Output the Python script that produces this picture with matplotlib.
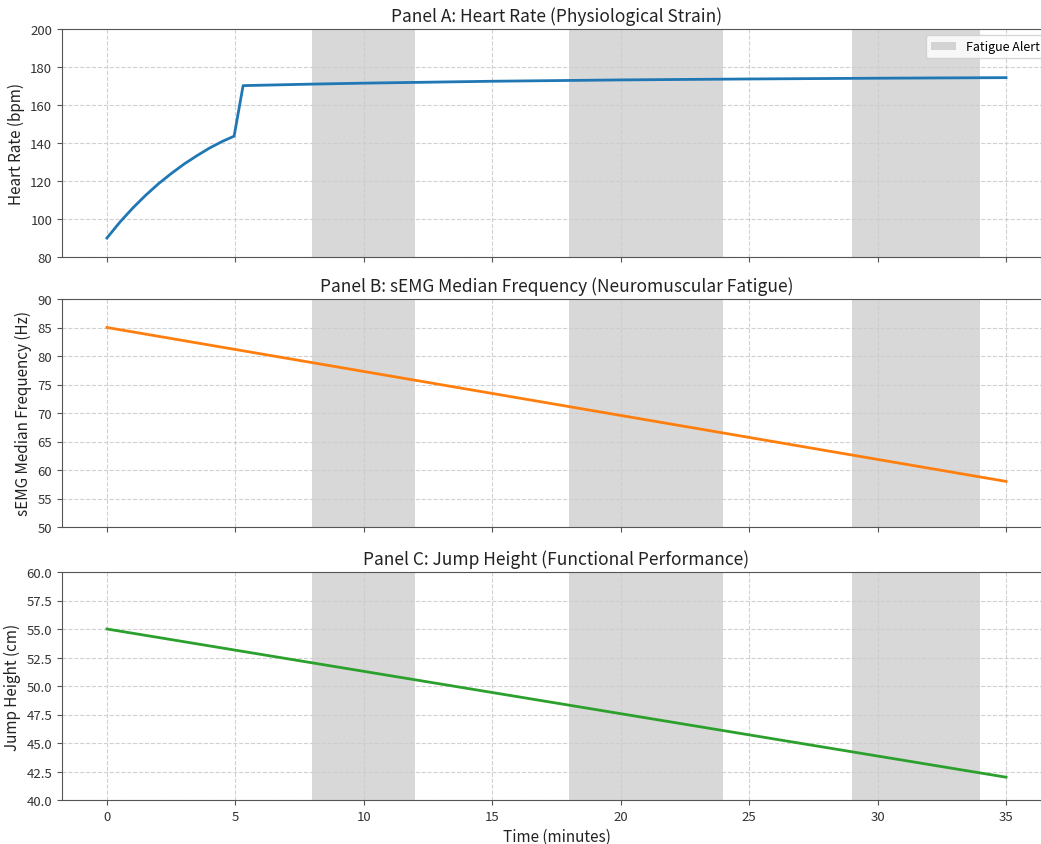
import matplotlib
matplotlib.use('Agg')
import matplotlib.pyplot as plt

plt.rcParams['font.family'] = ['Noto Sans CJK SC', 'DejaVu Sans']
plt.rcParams['axes.edgecolor'] = '#555555'
plt.rcParams['xtick.color'] = '#555555'
plt.rcParams['ytick.color'] = '#555555'
plt.rcParams['xtick.labelcolor'] = '#333333'
plt.rcParams['ytick.labelcolor'] = '#333333'

# Heart rate (minutes, bpm).
hr_time = [0, 0.5, 1.0, 1.5, 2.0, 2.5, 3.0, 3.5, 4.0, 4.5, 4.95,
           5.3, 8, 10, 15, 20, 25, 30, 35]
hr_values = [90, 98.3, 105.7, 112.4, 118.5, 123.9, 128.9, 133.3, 137.4, 140.9, 143.6,
             170.2, 171.0, 171.5, 172.5, 173.2, 173.7, 174.1, 174.4]

# sEMG median frequency (Hz) and jump height (cm).
semg_time = [0, 35]
semg_values = [85.0, 58.0]
jump_time = [0, 35]
jump_values = [55.0, 42.0]

# Fatigue alert windows (start, end) in minutes.
alert_windows = [(8, 12), (18, 24), (29, 34)]

panels = [
    ('Panel A: Heart Rate (Physiological Strain)', 'Heart Rate (bpm)',
     hr_time, hr_values, 'tab:blue', (80, 200)),
    ('Panel B: sEMG Median Frequency (Neuromuscular Fatigue)', 'sEMG Median Frequency (Hz)',
     semg_time, semg_values, 'tab:orange', (50, 90)),
    ('Panel C: Jump Height (Functional Performance)', 'Jump Height (cm)',
     jump_time, jump_values, 'tab:green', (40, 60)),
]

fig = plt.figure(figsize=(10.41, 8.45), dpi=100)
W, H = 1041, 845
tops = [30, 300, 573]
height = 228
axes = []
for top in tops:
    ax = fig.add_axes([62 / W, 1 - (top + height) / H, 989 / W, height / H])
    axes.append(ax)

for i, (ax, (title, ylabel, t, v, color, ylim)) in enumerate(zip(axes, panels)):
    for k, (start, end) in enumerate(alert_windows):
        ax.axvspan(start, end, color='gray', alpha=0.3, lw=0,
                   label='Fatigue Alert' if k == 0 else None)
    ax.plot(t, v, color=color, lw=2)
    ax.set_title(title, fontsize=12.5, color='#222222')
    ax.set_ylabel(ylabel, fontsize=11, color='#222222')
    ax.set_ylim(*ylim)
    ax.set_xlim(-1.75, 36.75)
    ax.grid(True, linestyle='--', color='#cccccc', alpha=0.9)
    ax.tick_params(labelsize=9.5)
    if i < 2:
        ax.tick_params(labelbottom=False)

axes[2].set_yticks([40 + 2.5 * k for k in range(9)])
axes[2].set_yticklabels([f'{40 + 2.5 * k:.1f}' for k in range(9)])
axes[2].set_xlabel('Time (minutes)', fontsize=11, color='#222222')
axes[0].legend(loc='upper right', fontsize=9)

fig.savefig('out.png', dpi=100)
